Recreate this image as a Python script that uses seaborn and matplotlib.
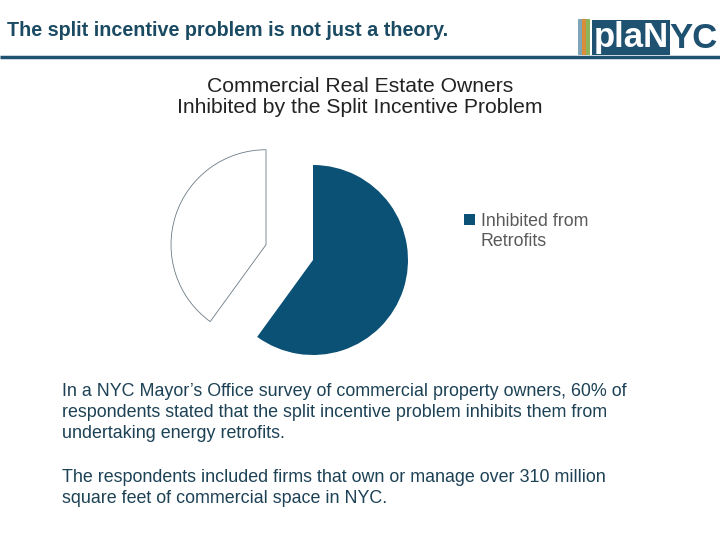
import numpy as np
import pandas as pd
import matplotlib.pyplot as plt
import matplotlib.patches as mpatches
import seaborn as sns

# data
legend_lines = ['Inhibited from', 'Retrofits']
shares = [60, 40]
slice_colors = ['#0b5075', '#ffffff']

header = 'The split incentive problem is not just a theory.'
chart_title = 'Commercial Real Estate Owners\nInhibited by the Split Incentive Problem'
body_lines = [
    "In a NYC Mayor\u2019s Office survey of commercial property owners, 60% of",
    "respondents stated that the split incentive problem inhibits them from",
    "undertaking energy retrofits.",
    "",
    "The respondents included firms that own or manage over 310 million",
    "square feet of commercial space in NYC.",
]

sns.set_theme(style='white')
plt.rcParams['font.family'] = ['Liberation Sans', 'DejaVu Sans']

fig = plt.figure(figsize=(7.2, 5.4), dpi=100)
fig.patch.set_facecolor('white')

# one axes over the whole figure, pixel units (y up)
ax = fig.add_axes([0, 0, 1, 1])
ax.set_xlim(0, 720)
ax.set_ylim(0, 540)
ax.set_aspect('equal')
ax.axis('off')

# header
ax.text(7, 540 - 30, header, fontsize=14.2, fontweight='bold', color='#1b4a63',
        va='center', ha='left')
ax.plot([0, 720], [540 - 57, 540 - 57], color='#1f5170', lw=2.5, solid_capstyle='butt')

# logo
for x0, c in zip([578, 582, 586], ['#7fa6b8', '#d98c3a', '#8cb45a']):
    ax.add_patch(mpatches.Rectangle((x0, 540 - 55), 4, 36, color=c, lw=0))
ax.add_patch(mpatches.Rectangle((592, 540 - 55), 78, 35, color='#1f5170', lw=0))
ax.text(594, 540 - 38, 'plaN', fontsize=25, fontweight='bold', color='white',
        va='center', ha='left')
ax.text(669, 540 - 38, 'YC', fontsize=25, fontweight='bold', color='#1f5170',
        va='center', ha='left')

# chart title
ax.text(360, 540 - 97, chart_title, fontsize=15.2, color='#222222',
        ha='center', va='center', linespacing=1.15)

# pie
radius = 95
wedges, _ = ax.pie(shares, colors=slice_colors, startangle=90, counterclock=False,
                   explode=[0, 0.52 * radius], center=(313, 540 - 260), radius=radius,
                   wedgeprops=dict(edgecolor='none'), frame=True)
wedges[1].set_edgecolor('#6b7b86')
wedges[1].set_linewidth(0.6)
ax.set_xlim(0, 720)
ax.set_ylim(0, 540)
ax.axis('off')

blank = mpatches.Patch(color='none')
leg = ax.legend([wedges[0], blank], legend_lines, loc='upper left',
                bbox_to_anchor=(448 / 720, 1 - 197 / 540), frameon=False,
                fontsize=12.8, handlelength=0.6, handleheight=0.6,
                handletextpad=0.35, labelspacing=0.15)
for t in leg.get_texts():
    t.set_color('#595959')

# body text
for i, line in enumerate(body_lines):
    ax.text(62, 540 - 391 - i * 21.5, line, fontsize=12.9, color='#1d4256',
            ha='left', va='center')

fig.savefig('out.png', dpi=100)
